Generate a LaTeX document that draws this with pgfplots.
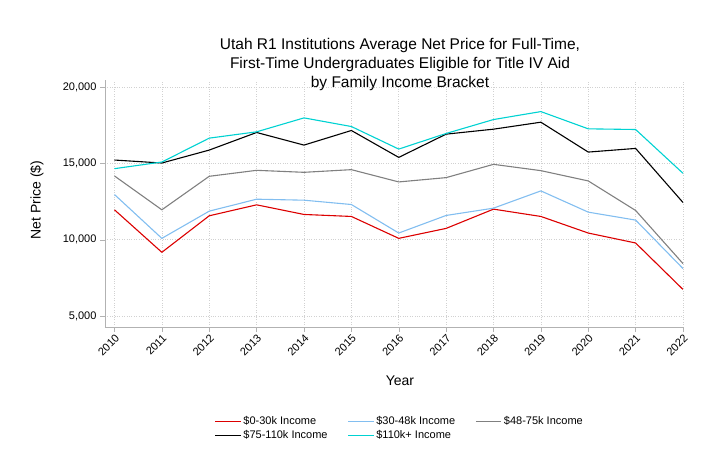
\documentclass[border=0pt]{standalone}
\usepackage{pgfplots}
\pgfplotsset{compat=1.18}
\usepackage{fontspec}
\setmainfont{Liberation Sans}
\definecolor{cred}{RGB}{220,0,0}
\definecolor{cblue}{RGB}{130,190,240}
\definecolor{cgray}{RGB}{128,128,128}
\definecolor{ccyan}{RGB}{0,210,210}
\begin{document}
\begin{tikzpicture}
\useasboundingbox (-105pt,-147pt) rectangle (606pt,327pt);
\begin{axis}[scale only axis, width=578pt, height=247pt,
 xmin=2009.8, xmax=2022, ymin=4280, ymax=20460,
 axis x line*=bottom, axis y line*=left,
 axis line style={gray!60, line width=0.8pt},
 xtick={2010,...,2022}, ytick={5000,10000,15000,20000},
 x tick label style={rotate=45, anchor=north east, inner sep=1pt, font=\fontsize{11}{12}\selectfont},
 y tick label style={font=\fontsize{11}{12}\selectfont},
 xticklabel={\pgfmathprintnumber[1000 sep=]{\tick}},
 /pgf/number format/assume math mode=true,
 /pgf/number format/1000 sep={,},
 scaled y ticks=false,
 tick style={gray!60}, tick align=outside, major tick length=5pt,
 xmajorgrids, ymajorgrids, major grid style={dotted, line width=0.6pt, black!18},
 legend style={at={(0.51,-0.41)}, anchor=center, draw=none, font=\fontsize{11}{12}\selectfont, legend columns=3, /tikz/every even column/.append style={column sep=18pt}},
 legend image code/.code={\draw[#1, line width=1.1pt] (0pt,0pt) -- (0.9cm,0pt);},
 legend cell align=left,
]
\addplot[cred, line width=1.1pt] coordinates {(2010,11957)(2011,9174)(2012,11565)(2013,12283)(2014,11652)(2015,11522)(2016,10087)(2017,10739)(2018,12000)(2019,11522)(2020,10435)(2021,9783)(2022,6739)};
\addlegendentry{\$0-30k Income}
\addplot[cblue, line width=1.1pt] coordinates {(2010,12957)(2011,10087)(2012,11870)(2013,12652)(2014,12587)(2015,12304)(2016,10435)(2017,11587)(2018,12065)(2019,13196)(2020,11804)(2021,11283)(2022,8109)};
\addlegendentry{\$30-48k Income}
\addplot[cgray, line width=1.1pt] coordinates {(2010,14174)(2011,11957)(2012,14152)(2013,14543)(2014,14413)(2015,14587)(2016,13783)(2017,14065)(2018,14935)(2019,14522)(2020,13848)(2021,11913)(2022,8435)};
\addlegendentry{\$48-75k Income}
\addplot[black, line width=1.1pt] coordinates {(2010,15217)(2011,15022)(2012,15870)(2013,17022)(2014,16196)(2015,17152)(2016,15391)(2017,16913)(2018,17239)(2019,17696)(2020,15739)(2021,15978)(2022,12435)};
\addlegendentry{\$75-110k Income}
\addplot[ccyan, line width=1.1pt] coordinates {(2010,14652)(2011,15087)(2012,16652)(2013,17065)(2014,17978)(2015,17413)(2016,15935)(2017,16957)(2018,17870)(2019,18391)(2020,17261)(2021,17217)(2022,14348)};
\addlegendentry{\$110k+ Income}
\end{axis}
\node[align=center, font=\fontsize{15.5}{19}\selectfont] at (295pt,263pt) {Utah R1 Institutions Average Net Price for Full-Time,\\First-Time Undergraduates Eligible for Title IV Aid\\by Family Income Bracket};
\node[font=\fontsize{14}{16}\selectfont] at (295pt,-54pt) {Year};
\node[font=\fontsize{14}{16}\selectfont, rotate=90] at (-68pt,127pt) {Net Price (\$)};
\end{tikzpicture}
\end{document}
